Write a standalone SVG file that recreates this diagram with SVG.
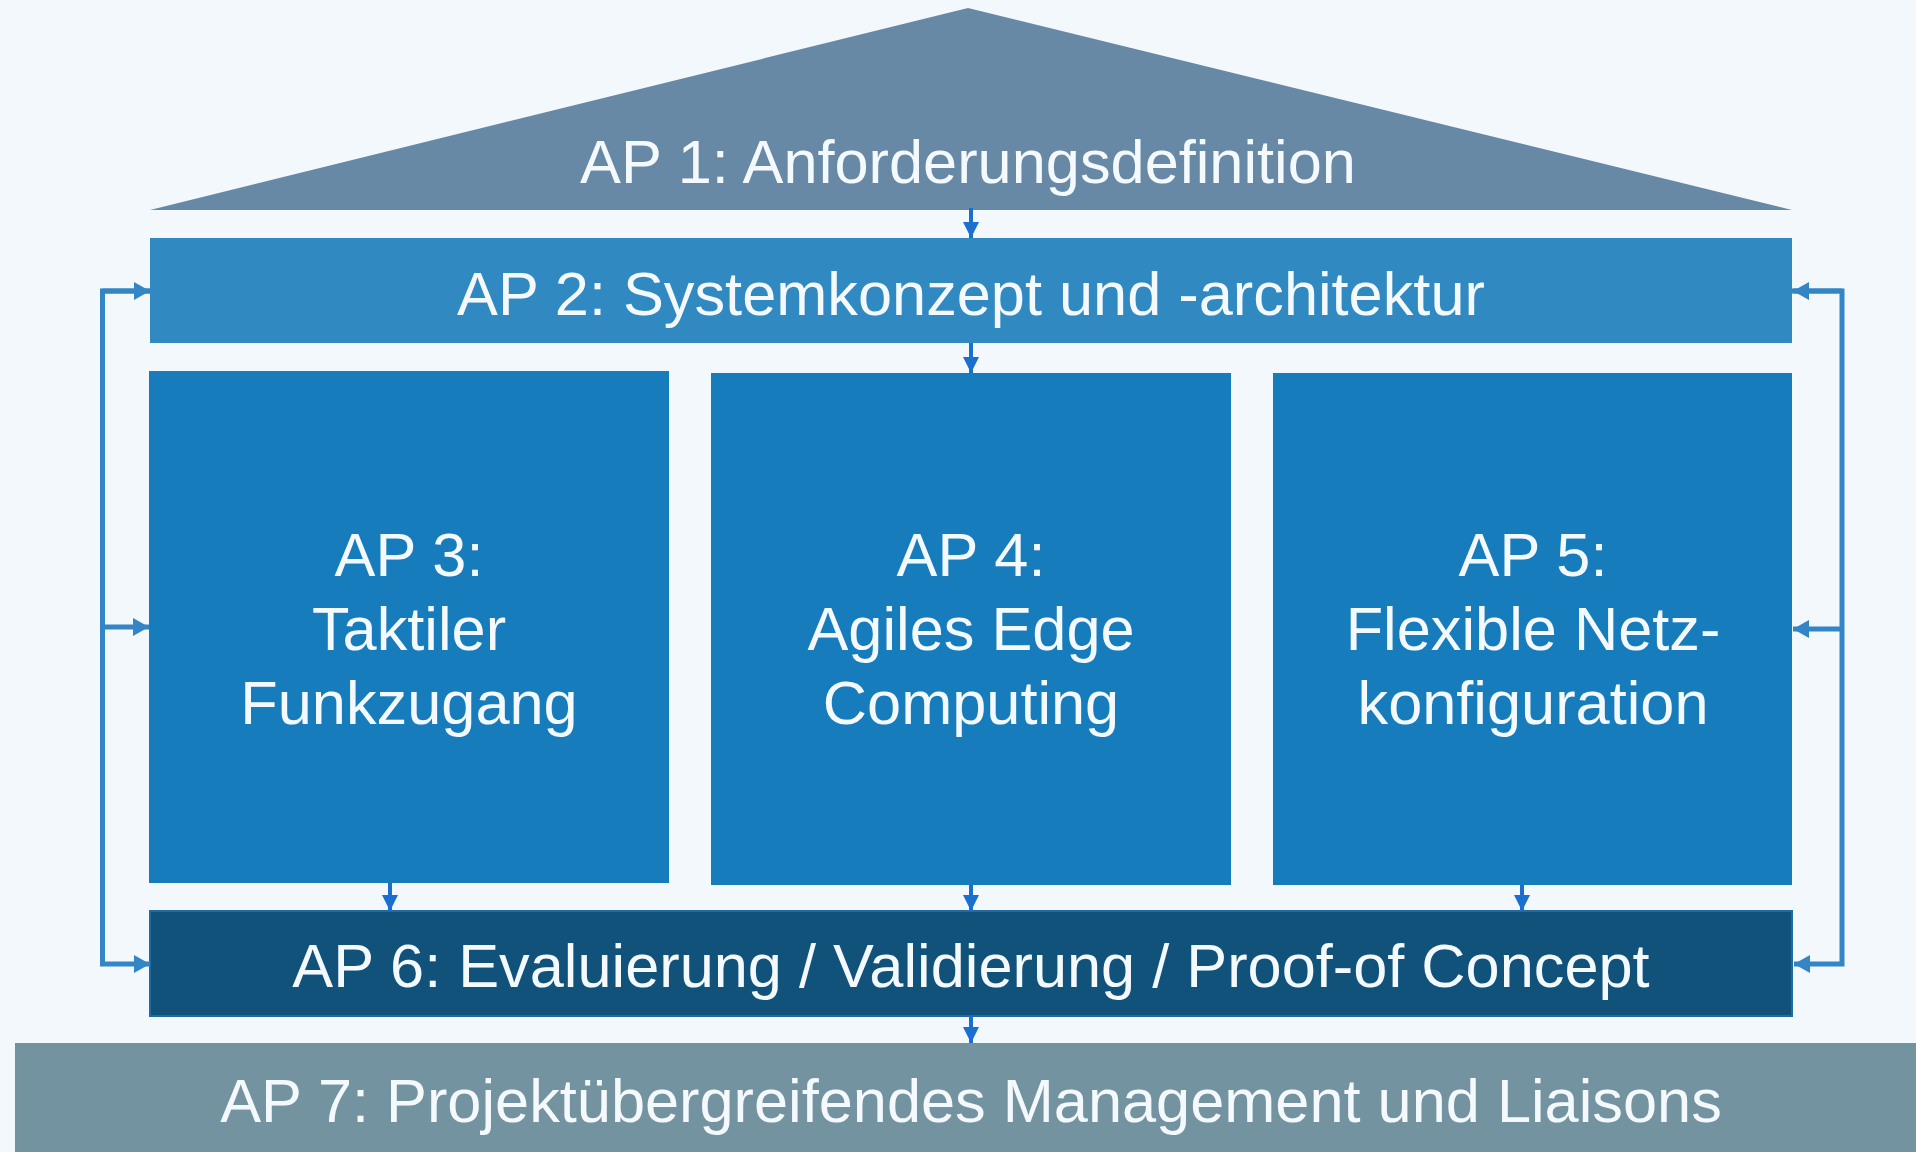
<svg xmlns="http://www.w3.org/2000/svg" width="1916" height="1152" viewBox="0 0 1916 1152">
<defs>
<style>
.t{font-family:"Liberation Sans",Arial,sans-serif;font-size:61.3px;fill:#F4F9FD;text-anchor:middle}
.conn{fill:none;stroke:#3385C6;stroke-width:5}
.down{fill:none;stroke:#1A6FCF;stroke-width:4}
</style>
<marker id="ah" viewBox="0 0 16 18" refX="16" refY="9" markerWidth="16" markerHeight="18" markerUnits="userSpaceOnUse" orient="auto">
<path d="M0,0 L16,9 L0,18 Z" fill="#3385C6"/>
</marker>
<marker id="dh" viewBox="0 0 16 16" refX="16" refY="8" markerWidth="16" markerHeight="16" markerUnits="userSpaceOnUse" orient="auto">
<path d="M0,0 L16,8 L0,16 Z" fill="#1A6FCF"/>
</marker>
</defs>
<rect width="1916" height="1152" fill="#F3F8FC"/>
<g id="ap1">
<polygon points="968,8 1792,210 150,210" fill="#6789A6"/>
<text class="t" x="968" y="183">AP 1: Anforderungsdefinition</text>
</g>
<g id="ap2">
<rect x="150" y="238" width="1642" height="105" fill="#3189C2"/>
<text class="t" x="971" y="315">AP 2: Systemkonzept und -architektur</text>
</g>
<g id="ap3">
<rect x="149" y="371" width="520" height="512" fill="#177CBB"/>
<text class="t" x="409" y="576">AP 3:</text>
<text class="t" x="409" y="650">Taktiler</text>
<text class="t" x="409" y="724">Funkzugang</text>
</g>
<g id="ap4">
<rect x="711" y="373" width="520" height="512" fill="#177CBB"/>
<text class="t" x="971" y="576">AP 4:</text>
<text class="t" x="971" y="650">Agiles Edge</text>
<text class="t" x="971" y="724">Computing</text>
</g>
<g id="ap5">
<rect x="1273" y="373" width="519" height="512" fill="#177CBB"/>
<text class="t" x="1533" y="576">AP 5:</text>
<text class="t" x="1533" y="650">Flexible Netz-</text>
<text class="t" x="1533" y="724">konfiguration</text>
</g>
<g id="ap6">
<rect x="150" y="911" width="1642" height="105" fill="#10527A" stroke="#1E6CA3" stroke-width="2"/>
<text class="t" x="971" y="987">AP 6: Evaluierung / Validierung / Proof-of Concept</text>
</g>
<g id="ap7">
<rect x="15" y="1043" width="1901" height="109" fill="#7493A0"/>
<text class="t" x="971" y="1122">AP 7: Projektübergreifendes Management und Liaisons</text>
</g>
<g id="connectors">
<line class="down" x1="971" y1="208" x2="971" y2="238" marker-end="url(#dh)"/>
<line class="down" x1="971" y1="343" x2="971" y2="373" marker-end="url(#dh)"/>
<line class="down" x1="390" y1="883" x2="390" y2="911" marker-end="url(#dh)"/>
<line class="down" x1="971" y1="885" x2="971" y2="911" marker-end="url(#dh)"/>
<line class="down" x1="1522" y1="885" x2="1522" y2="911" marker-end="url(#dh)"/>
<line class="down" x1="971" y1="1016" x2="971" y2="1043" marker-end="url(#dh)"/>
<polyline class="conn" points="150,291 102.5,291 102.5,964 150,964" marker-end="url(#ah)"/>
<line class="conn" x1="102.5" y1="291" x2="150" y2="291" marker-end="url(#ah)"/>
<line class="conn" x1="102.5" y1="627" x2="149" y2="627" marker-end="url(#ah)"/>
<polyline class="conn" points="1792,291 1842,291 1842,964 1794,964" marker-end="url(#ah)"/>
<line class="conn" x1="1842" y1="291" x2="1793" y2="291" marker-end="url(#ah)"/>
<line class="conn" x1="1842" y1="629" x2="1793" y2="629" marker-end="url(#ah)"/>
</g>
</svg>
